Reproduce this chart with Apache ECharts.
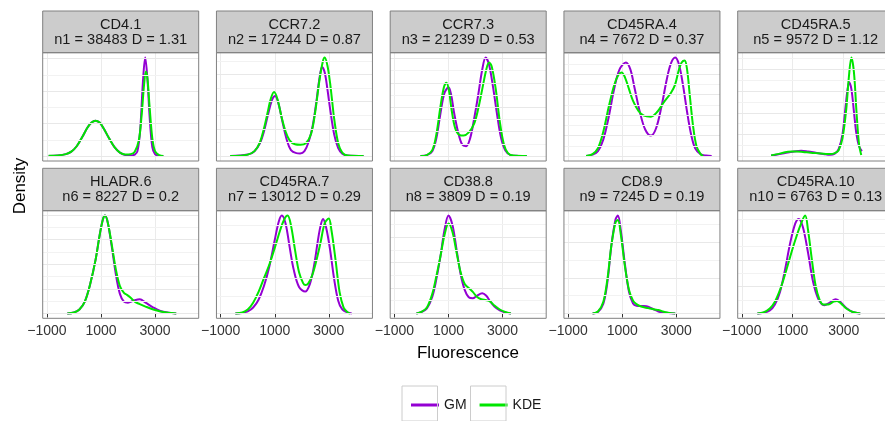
<!DOCTYPE html>
<html><head><meta charset="utf-8">
<script src="https://cdn.jsdelivr.net/npm/echarts@6/dist/echarts.min.js"></script>
<style>html,body{margin:0;padding:0;background:#fff;}#c{width:885px;height:421px;}</style>
</head><body><div id="c"></div>
<script>
// ---- data ----
const panelNames = ['CD4.1','CCR7.2','CCR7.3','CD45RA.4','CD45RA.5','HLADR.6','CD45RA.7','CD38.8','CD8.9','CD45RA.10'];
const panelStats = ['n1 = 38483 D = 1.31','n2 = 17244 D = 0.87','n3 = 21239 D = 0.53','n4 = 7672 D = 0.37','n5 = 9572 D = 1.12',
                    'n6 = 8227 D = 0.2','n7 = 13012 D = 0.29','n8 = 3809 D = 0.19','n9 = 7245 D = 0.19','n10 = 6763 D = 0.13'];
const xTicks = [-1000, 1000, 3000];
const seriesNames = ['GM', 'KDE'];
// horizontal grid spacing per panel (relative density units)
const yGridStep = [16.5, 13.8, 12.4, 10.4, 11, 12.6, 18, 13, 18.2, 13.7];

// relative density (x = fluorescence, y = density, panel max = 100)
const gm1 = [[-940,0],[-600,0.5],[-300,2],[-100,4.5],[100,10],[300,19],[500,29],[650,34],[790,36],[950,34],[1100,28],[1300,18],[1500,9],[1700,3.5],[1900,1],[2100,0.5],[2250,1.5],[2350,5],[2450,26],[2550,74],[2637,100],[2720,78],[2800,40],[2900,9],[3000,2],[3150,0.3],[3310,0]];
const kde1 = [[-940,0.3],[-600,0.7],[-300,2],[-100,4.5],[100,10],[300,19],[500,29],[650,34],[790,36],[950,34],[1100,28],[1300,18],[1500,9],[1700,3.5],[1900,1.5],[2100,2],[2250,4.5],[2400,16],[2500,40],[2600,74],[2662,86],[2720,79],[2800,50],[2900,18],[3000,5],[3150,1],[3310,0]];

const gm2 = [[-650,0],[0,1.5],[250,5],[450,13],[600,25],[750,42],[900,57],[1012,61],[1150,52],[1300,33],[1450,16],[1600,6],[1800,3],[1937,2.7],[2100,5],[2250,14],[2400,30],[2550,57],[2650,78],[2750,90.6],[2850,85],[2950,68],[3050,48],[3200,22],[3350,8],[3500,2.5],[3700,0.5],[4290,0]];
const kde2 = [[-650,0],[-300,0.3],[0,1.5],[250,5],[450,14],[600,28],[750,46],[850,58],[975,65],[1100,58],[1250,40],[1400,25],[1550,16],[1750,12],[1950,11.5],[2150,13],[2350,23],[2500,45],[2650,76],[2780,96],[2850,100],[2950,92],[3050,74],[3125,56],[3200,38],[3350,13],[3500,3.5],[3700,0.5],[4290,0]];

const gm3 = [[-40,0],[200,1],[400,5],[550,18],[700,43],[850,64],[1000,69.8],[1100,62],[1200,45],[1350,25],[1500,12],[1650,10],[1800,18],[1950,38],[2100,62],[2250,88],[2375,100],[2500,93],[2650,70],[2800,42],[2950,18],[3100,6],[3300,1],[3600,0.2],[3900,0]];
const kde3 = [[-40,0],[200,1],[400,6],[550,22],[700,50],[830,70],[925,74.5],[1020,66],[1120,46],[1250,28],[1400,21.5],[1560,20.8],[1750,24],[1950,33],[2100,48],[2250,68],[2400,88],[2500,95],[2600,91],[2750,68],[2900,35],[3050,12],[3200,3],[3400,0.5],[3900,0]];

const gm4 = [[-340,0],[-100,1.5],[100,5],[300,17],[500,40],[700,68],[900,88],[1137,95],[1300,88],[1450,70],[1650,45],[1850,27],[2062,20.8],[2250,28],[2450,50],[2650,78],[2800,94],[2962,100],[3100,93],[3250,72],[3400,45],[3550,22],[3700,8],[3900,2],[4100,0.5],[4312,0]];
const kde4 = [[-340,0],[-100,2],[100,8],[300,25],[500,50],[700,72],[850,82],[975,85],[1100,80],[1250,68],[1400,56],[1600,46],[1800,41],[2062,40],[2300,45],[2550,55],[2800,64],[2950,72],[3100,88],[3200,95],[3310,97],[3400,88],[3500,62],[3625,30],[3750,10],[3900,2],[4000,0]];

const gm5 = [[150,0.5],[400,1.5],[700,3],[1000,4.5],[1337,5.4],[1600,4.6],[1900,3.4],[2200,2.2],[2462,1.3],[2650,2.5],[2800,7],[2950,22],[3050,45],[3150,68],[3212,75],[3300,68],[3400,45],[3500,22],[3600,10],[3712,5]];
const kde5 = [[150,0.7],[400,2],[700,3.8],[1000,4.6],[1150,4.7],[1400,4.2],[1700,3.4],[2000,2.8],[2300,2.2],[2462,2],[2650,3],[2800,6],[2950,18],[3100,48],[3200,80],[3300,100],[3400,85],[3500,45],[3600,12],[3687,1]];

const gm6 = [[-250,0],[0,1],[200,4],[400,12],[600,30],[800,55],[950,80],[1070,96],[1150,100],[1250,93],[1400,68],[1550,40],[1700,20],[1850,12],[2000,11],[2200,13],[2437,14.5],[2650,11],[2937,6],[3200,2.5],[3500,0.8],[3787,0]];
const kde6 = [[-250,0],[0,1],[200,4],[400,12],[600,30],[800,55],[950,80],[1070,96],[1150,100],[1250,93],[1400,70],[1550,45],[1700,28],[1850,21],[1962,19],[2100,16],[2250,12],[2437,9.5],[2650,7],[2937,4],[3200,2],[3500,0.6],[3787,0]];

const gm7 = [[-460,0],[-200,0.5],[0,2],[200,6],[400,14],[600,28],[800,48],[1000,75],[1150,94],[1262,100],[1400,92],[1550,68],[1700,45],[1900,27],[2125,22.3],[2300,30],[2450,48],[2600,75],[2700,90],[2787,96.6],[2900,88],[3050,65],[3200,35],[3350,13],[3500,4],[3700,1],[3850,0]];
const kde7 = [[-460,0],[-200,1],[0,4],[200,11],[400,22],[600,36],[800,50],[1000,67],[1200,85],[1350,96],[1475,100],[1600,90],[1750,65],[1900,42],[2050,31],[2137,29],[2250,31],[2400,40],[2550,55],[2700,73],[2850,92],[3000,97],[3100,85],[3250,55],[3400,22],[3550,6],[3700,1],[3787,0]];

const gm8 = [[-190,0],[0,1.5],[200,5],[400,17],[550,35],[700,58],[850,85],[1000,100],[1150,90],[1300,65],[1450,40],[1600,24],[1750,16.5],[1900,15.5],[2050,18],[2250,20.6],[2400,18],[2550,12],[2700,7],[2900,3],[3100,1],[3312,0]];
const kde8 = [[-190,0],[0,1.5],[200,6],[400,20],[550,38],[700,58],[850,80],[1000,92],[1150,83],[1300,62],[1450,42],[1600,30],[1750,26],[1900,22],[2050,17],[2212,14.5],[2400,13.5],[2550,12],[2700,8],[2900,4],[3100,1.5],[3312,0]];

const gm9 = [[-100,0],[100,1.5],[300,10],[450,32],[600,70],[750,96],[837,100],[950,84],[1100,50],[1250,22],[1400,10],[1525,7.8],[1700,7.5],[1900,7.4],[2100,5],[2337,2],[2500,1],[2700,0.5],[2962,0]];
const kde9 = [[-100,0],[100,2],[300,12],[450,35],[600,70],[750,93],[837,95.6],[950,80],[1100,48],[1250,24],[1400,13],[1525,9.5],[1700,7],[1962,5.4],[2200,4],[2337,3.4],[2500,2],[2700,0.8],[2962,0]];

const gm10 = [[-390,0],[-150,0.7],[100,3],[300,9],[500,22],[700,45],[900,72],[1100,92],[1237,96.6],[1400,88],[1600,62],[1800,32],[2000,15],[2237,8.4],[2450,11],[2687,14.5],[2900,11],[3100,5.5],[3350,1.5],[3650,0]];
const kde10 = [[-390,0],[-150,1],[100,5],[300,12],[500,24],[700,40],[900,58],[1100,75],[1300,90],[1487,100],[1600,85],[1750,55],[1900,28],[2050,14],[2200,9],[2400,9],[2600,12],[2737,12.8],[2900,10],[3100,5],[3350,1.5],[3650,0]];

const gmData = [gm1,gm2,gm3,gm4,gm5,gm6,gm7,gm8,gm9,gm10];
const kdeData = [kde1,kde2,kde3,kde4,kde5,kde6,kde7,kde8,kde9,kde10];

// ---- chart ----
const FONT = '"Liberation Sans", Arial, Helvetica, sans-serif';
const GM_COL = '#9400D3', KDE_COL = '#00E600';
const chart = echarts.init(document.getElementById('c'), null, {renderer: 'canvas'});
const grids = [], xAxes = [], yAxes = [], series = [], graphics = [];
for (let i = 0; i < 10; i++) {
  const row = i < 5 ? 0 : 1, col = i % 5;
  const left = 42.7 + 173.75 * col, width = 156;
  const stripTop = row ? 168.3 : 11, top = row ? 210.7 : 52.7, height = row ? 107.6 : 108.3;
  grids.push({left: left, top: top, width: width, height: height, show: true, backgroundColor: '#fff', borderWidth: 0});
  xAxes.push({type: 'value', gridIndex: i, min: -1159, max: 4618,
    axisLine: {show: false},
    axisTick: {show: row === 1, length: 4, customValues: xTicks, lineStyle: {color: '#333', width: 1}},
    axisLabel: {show: row === 1, customValues: xTicks, margin: 6, fontSize: 14, fontFamily: FONT, color: '#333',
      formatter: v => (v < 0 ? '\u2212' + Math.abs(v) : String(v))},
    splitLine: {show: true, lineStyle: {color: '#EBEBEB', width: 1}}});
  const ymax = Math.max(...gmData[i].map(p => p[1]), ...kdeData[i].map(p => p[1]));
  yAxes.push({type: 'value', gridIndex: i, min: -0.05 * ymax, max: 1.05 * ymax, show: false});
  const gv = [];
  for (let k = 0; k * yGridStep[i] <= 1.05 * ymax; k++) gv.push(k * yGridStep[i]);
  series.push({type: 'line', xAxisIndex: i, yAxisIndex: i, data: [], silent: true, z: 1, animation: false,
    markLine: {silent: true, symbol: ['none', 'none'], label: {show: false}, animation: false,
      data: gv.map((v, k) => ({yAxis: v, lineStyle: {color: k % 2 ? '#F2F2F2' : '#E8E8E8', width: 1, type: 'solid'}}))}});
  series.push({type: 'line', name: seriesNames[0], xAxisIndex: i, yAxisIndex: i, data: gmData[i], smooth: 0.35,
    symbol: 'none', z: 2, animation: false, lineStyle: {color: GM_COL, width: 2}, itemStyle: {color: GM_COL}});
  series.push({type: 'line', name: seriesNames[1], xAxisIndex: i, yAxisIndex: i, data: kdeData[i], smooth: 0.35,
    symbol: 'none', z: 3, animation: false, lineStyle: {color: KDE_COL, width: 2}, itemStyle: {color: KDE_COL}});
  // strip
  graphics.push({type: 'rect', shape: {x: left, y: stripTop, width: width, height: top - stripTop},
    style: {fill: '#CCCCCC', stroke: '#808080', lineWidth: 1}, z: 50, silent: true});
  graphics.push({type: 'text', x: left + width / 2, y: stripTop + 14, z: 51, silent: true,
    style: {text: panelNames[i], fontSize: 14.6, fontFamily: FONT, fill: '#1A1A1A', align: 'center', verticalAlign: 'middle'}});
  graphics.push({type: 'text', x: left + width / 2, y: stripTop + 29, z: 51, silent: true,
    style: {text: panelStats[i], fontSize: 14.6, fontFamily: FONT, fill: '#1A1A1A', align: 'center', verticalAlign: 'middle'}});
  // panel border
  graphics.push({type: 'rect', shape: {x: left, y: top, width: width, height: height},
    style: {fill: 'none', stroke: '#808080', lineWidth: 1}, z: 60, silent: true});
}
graphics.push({type: 'text', x: 20, y: 186, rotation: Math.PI / 2, z: 51, silent: true,
  style: {text: 'Density', fontSize: 17, fontFamily: FONT, fill: '#000', align: 'center', verticalAlign: 'middle'}});
graphics.push({type: 'text', x: 468, y: 353, z: 51, silent: true,
  style: {text: 'Fluorescence', fontSize: 17, fontFamily: FONT, fill: '#000', align: 'center', verticalAlign: 'middle'}});
graphics.push({type: 'rect', shape: {x: 402, y: 386, width: 35.5, height: 35}, style: {fill: 'none', stroke: '#CCCCCC', lineWidth: 1}, z: 40, silent: true});
graphics.push({type: 'rect', shape: {x: 470.5, y: 386, width: 35.5, height: 35}, style: {fill: 'none', stroke: '#CCCCCC', lineWidth: 1}, z: 40, silent: true});

chart.setOption({
  animation: false,
  backgroundColor: '#fff',
  grid: grids, xAxis: xAxes, yAxis: yAxes, series: series,
  legend: {data: seriesNames, left: 406, top: 393, icon: 'rect', itemWidth: 28, itemHeight: 3, itemGap: 13,
    textStyle: {fontSize: 14, fontFamily: FONT, color: '#1A1A1A'}},
  graphic: graphics
});
</script></body></html>
